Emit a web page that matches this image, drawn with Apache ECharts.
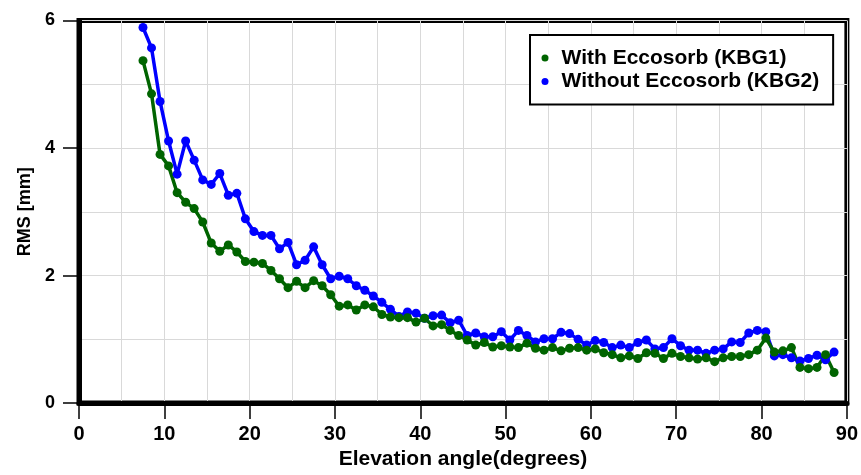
<!DOCTYPE html>
<html>
<head>
<meta charset="utf-8">
<script src="https://cdn.jsdelivr.net/npm/echarts@6/dist/echarts.min.js"></script>
<style>
html,body{margin:0;padding:0;background:#fff;}
#chart{width:861px;height:475px;}
</style>
</head>
<body>
<div id="chart"></div>
<script>
// Elevation angles (degrees)
const elevation = [7.5, 8.5, 9.5, 10.5, 11.5, 12.5, 13.5, 14.5, 15.5, 16.5, 17.5, 18.5, 19.5, 20.5, 21.5, 22.5, 23.5, 24.5, 25.5, 26.5, 27.5, 28.5, 29.5, 30.5, 31.5, 32.5, 33.5, 34.5, 35.5, 36.5, 37.5, 38.5, 39.5, 40.5, 41.5, 42.5, 43.5, 44.5, 45.5, 46.5, 47.5, 48.5, 49.5, 50.5, 51.5, 52.5, 53.5, 54.5, 55.5, 56.5, 57.5, 58.5, 59.5, 60.5, 61.5, 62.5, 63.5, 64.5, 65.5, 66.5, 67.5, 68.5, 69.5, 70.5, 71.5, 72.5, 73.5, 74.5, 75.5, 76.5, 77.5, 78.5, 79.5, 80.5, 81.5, 82.5, 83.5, 84.5, 85.5, 86.5, 87.5, 88.5];
// RMS [mm] with Eccosorb (KBG1)
const withEccosorb = [5.37, 4.85, 3.90, 3.72, 3.30, 3.15, 3.05, 2.84, 2.51, 2.38, 2.48, 2.37, 2.22, 2.21, 2.19, 2.08, 1.95, 1.81, 1.91, 1.81, 1.92, 1.84, 1.70, 1.52, 1.54, 1.46, 1.54, 1.51, 1.39, 1.35, 1.34, 1.34, 1.27, 1.33, 1.21, 1.23, 1.14, 1.06, 0.99, 0.91, 0.95, 0.88, 0.90, 0.88, 0.87, 0.94, 0.86, 0.83, 0.87, 0.82, 0.86, 0.87, 0.83, 0.85, 0.79, 0.76, 0.71, 0.74, 0.70, 0.79, 0.78, 0.70, 0.78, 0.73, 0.71, 0.69, 0.71, 0.65, 0.71, 0.73, 0.73, 0.76, 0.83, 1.02, 0.80, 0.82, 0.87, 0.56, 0.54, 0.56, 0.76, 0.48];
// RMS [mm] without Eccosorb (KBG2)
const withoutEccosorb = [5.89, 5.57, 4.73, 4.11, 3.59, 4.11, 3.81, 3.50, 3.43, 3.60, 3.26, 3.29, 2.89, 2.69, 2.63, 2.63, 2.42, 2.52, 2.17, 2.24, 2.45, 2.17, 1.95, 1.99, 1.95, 1.84, 1.77, 1.68, 1.58, 1.47, 1.36, 1.43, 1.41, 1.33, 1.37, 1.38, 1.26, 1.30, 1.06, 1.10, 1.04, 1.04, 1.12, 0.99, 1.14, 1.06, 0.96, 1.01, 1.01, 1.11, 1.09, 1.00, 0.91, 0.98, 0.95, 0.87, 0.91, 0.87, 0.95, 0.99, 0.85, 0.87, 1.01, 0.90, 0.83, 0.83, 0.78, 0.83, 0.85, 0.96, 0.95, 1.10, 1.14, 1.12, 0.74, 0.76, 0.71, 0.66, 0.70, 0.75, 0.68, 0.80];
const seriesNames = ['With Eccosorb (KBG1)', 'Without Eccosorb (KBG2)'];

const FONT = '"Liberation Sans", Arial, Helvetica, sans-serif';
const pairs = vals => elevation.map((x, i) => [x, vals[i]]);

const chart = echarts.init(document.getElementById('chart'), null, {renderer: 'canvas'});
chart.setOption({
  animation: false,
  backgroundColor: '#fff',
  grid: {left: 79, right: 12, top: 20.5, bottom: 70, show: true, borderColor: '#000', borderWidth: 5, backgroundColor: 'transparent'},
  legend: {
    data: seriesNames,
    orient: 'vertical',
    left: 530, top: 35,
    padding: [12, 14, 12, 11.5],
    itemGap: 1.4,
    itemWidth: 7, itemHeight: 7,
    icon: 'circle',
    selectedMode: false,
    backgroundColor: '#fff',
    borderColor: '#000', borderWidth: 2,
    textStyle: {fontFamily: FONT, fontWeight: 'bold', fontSize: 21, color: '#000', lineHeight: 22, padding: [0, 0, 0, 8]}
  },
  xAxis: {
    type: 'value', min: 0, max: 90, interval: 10,
    name: 'Elevation angle(degrees)', nameLocation: 'middle', nameGap: 44,
    nameTextStyle: {fontFamily: FONT, fontWeight: 'bold', fontSize: 21, color: '#000'},
    axisLine: {show: true, lineStyle: {color: '#000', width: 5}},
    axisTick: {show: true, length: 16, lineStyle: {color: '#000', width: 1.5}},
    axisLabel: {margin: 21, fontFamily: FONT, fontWeight: 'bold', fontSize: 20, color: '#000'},
    splitLine: {show: true, lineStyle: {color: '#d9d9d9', width: 1}},
    minorTick: {show: false, splitNumber: 2},
    minorSplitLine: {show: true, lineStyle: {color: '#d9d9d9', width: 1}}
  },
  yAxis: {
    type: 'value', min: 0, max: 6, interval: 2,
    name: 'RMS [mm]', nameLocation: 'middle', nameGap: 40,
    nameTextStyle: {fontFamily: FONT, fontWeight: 'bold', fontSize: 18, color: '#000'},
    axisLine: {show: true, lineStyle: {color: '#000', width: 5}},
    axisTick: {show: true, length: 16, lineStyle: {color: '#000', width: 1.5}},
    axisLabel: {margin: 24, fontFamily: FONT, fontWeight: 'bold', fontSize: 18, color: '#000'},
    splitLine: {show: true, lineStyle: {color: '#d9d9d9', width: 1}},
    minorTick: {show: false, splitNumber: 2},
    minorSplitLine: {show: true, lineStyle: {color: '#d9d9d9', width: 1}}
  },
  series: [
    {
      name: seriesNames[1], type: 'line', data: pairs(withoutEccosorb),
      symbol: 'circle', symbolSize: 9,
      itemStyle: {color: '#0000ff'}, lineStyle: {color: '#0000ff', width: 3.5}
    },
    {
      name: seriesNames[0], type: 'line', data: pairs(withEccosorb),
      symbol: 'circle', symbolSize: 9,
      itemStyle: {color: '#006400'}, lineStyle: {color: '#006400', width: 3.5}
    }
  ]
});
</script>
</body>
</html>
